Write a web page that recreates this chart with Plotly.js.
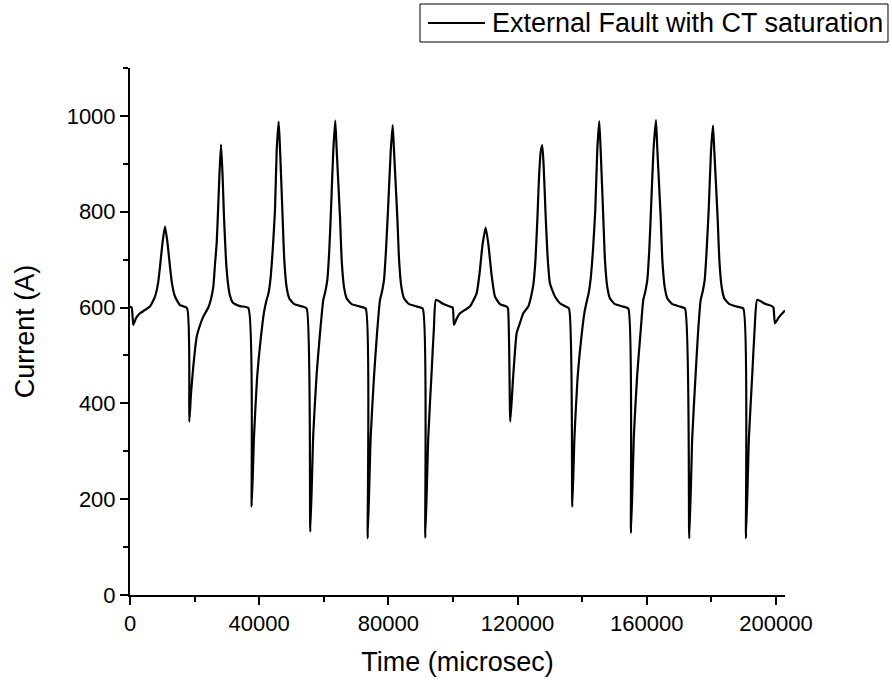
<!DOCTYPE html>
<html>
<head>
<meta charset="utf-8">
<script src="https://cdn.plot.ly/plotly-3.0.1.min.js"></script>
<style>html,body{margin:0;padding:0;background:#fff}#chart{width:892px;height:680px}</style>
</head>
<body>
<div id="chart"></div>
<script>
// Time (microsec)
const timeUs = [
  0, 526, 1022, 1858, 3096, 4644, 6192, 7740, 8669, 9288, 10062, 10836, 11610, 12384, 13003, 13932, 15480, 17647,
  18359, 18886, 19598, 20650, 21672, 22694, 24242, 25078, 25790, 26316, 26842, 27245, 27709, 28174, 28638, 29102,
  29722, 30341, 30960, 31889, 34056, 36626, 37679, 38390, 39319, 40403, 41486, 42260, 42880, 43500, 44181, 44893,
  45419, 46039, 46472, 47245, 47772, 48483, 49319, 50867, 53437, 54706, 55821, 56750, 57802, 58824, 59846, 60466,
  61085, 61704, 62230, 62943, 63562, 63995, 65016, 65543, 66254, 67090, 68638, 71208, 72972, 73591, 74520, 75542,
  76471, 77400, 78019, 78638, 79258, 79877, 80713, 81332, 81765, 82787, 83313, 84025, 84861, 86409, 88855, 90620,
  91425, 92354, 93345, 94118, 94738, 96905, 99072, 99908,
  100310, 101239, 102168, 103716, 105264, 106348, 107338, 108205, 109134, 110125, 110992, 111920, 113004, 114552,
  116626, 117029, 117741, 118577, 119722, 120744, 121766, 123314, 124150, 124924, 125543, 126162, 126626, 127153,
  127648, 128112, 128639, 129258, 130032, 131580, 133128, 134676, 135914, 136936, 137617, 138546, 139630, 140713,
  141394, 142013, 142632, 143345, 144057, 144676, 145295, 145729, 146534, 147060, 147772, 148608, 150156, 152726,
  154274, 155110, 156038, 157060, 158051, 158918, 159537, 160156, 160775, 161302, 162076, 162850, 163283, 164305,
  164831, 165543, 166379, 167927, 170280, 171828, 173159, 174088, 175079, 175853, 176689, 177308, 177927, 178546,
  179166, 179878, 180497, 180930, 181952, 182478, 183190, 184026, 185574, 187927, 189878, 190714, 191642, 192664,
  193438, 194212, 196596, 198763, 199228, 199692, 200930, 202788
];
// Current (A)
const currentA = [
  602, 600, 564, 578, 588, 595, 602, 623, 650, 685, 735, 769, 735, 685, 650, 623, 605, 599,
  362, 420, 477, 539, 563, 581, 600, 618, 643, 690, 735, 800, 880, 940, 880, 790,
  699, 650, 625, 610, 603, 599, 185, 330, 450, 530, 590, 615, 630, 660, 720, 803,
  928, 988, 928, 789, 699, 643, 619, 607, 602, 598, 132, 337, 462, 546, 616, 633,
  657, 720, 803, 928, 990, 928, 789, 699, 643, 619, 607, 602, 598, 118, 330, 455,
  545, 616, 633, 657, 720, 803, 925, 981, 925, 785, 699, 643, 619, 607, 602, 598,
  119, 330, 460, 560, 616, 608, 602, 600,
  564, 578, 588, 595, 602, 615, 630, 670, 730, 767, 730, 670, 623, 607,
  602, 598, 362, 450, 547, 568, 588, 602, 622, 650, 700, 790, 870, 925,
  939, 890, 800, 710, 650, 623, 609, 603, 598, 184, 330, 450, 530, 590,
  612, 630, 660, 720, 803, 928, 989, 928, 789, 699, 643, 619, 607, 602,
  598, 129, 337, 462, 546, 616, 633, 657, 720, 803, 928, 991, 928, 789,
  699, 643, 619, 607, 602, 598, 118, 330, 455, 545, 616, 633, 657, 720,
  803, 925, 980, 925, 785, 699, 643, 619, 607, 602, 598, 118, 330, 460,
  560, 616, 608, 603, 600, 567, 580, 594
];
const seriesName = "External Fault with CT saturation";
const xTickVals = [0, 40000, 80000, 120000, 160000, 200000];
const xTickText = ["0", "40000", "80000", "120000", "160000", "200000"];
const yTickVals = [0, 200, 400, 600, 800, 1000];
const yTickText = ["0", "200", "400", "600", "800", "1000"];

const font = "Arial, 'Liberation Sans', sans-serif";
const trace = {
  x: timeUs, y: currentA, type: "scatter", mode: "lines", name: seriesName,
  line: {color: "#000", width: 2.2, shape: "spline", smoothing: 0.5}, showlegend: false
};
// legend drawn as a framed key (paper coordinates, outside the plot area)
const layout = {
  width: 892, height: 680,
  margin: {l: 130, r: 107, t: 68, b: 85, pad: 0, autoexpand: false},
  paper_bgcolor: "#fff", plot_bgcolor: "#fff",
  font: {family: font, color: "#000"},
  showlegend: false,
  shapes: [
    {type: "rect", xref: "paper", yref: "paper", x0: 0.44275, x1: 1.15725, y0: 1.04934, y1: 1.12144,
     line: {color: "#000", width: 1}, fillcolor: "#fff"},
    {type: "line", xref: "paper", yref: "paper", x0: 0.45496, x1: 0.54198, y0: 1.08539, y1: 1.08539,
     line: {color: "#000", width: 2.2}}
  ],
  annotations: [
    {text: seriesName, xref: "paper", yref: "paper", x: 0.54962, y: 1.08539,
     xanchor: "left", yanchor: "middle", showarrow: false,
     font: {family: font, size: 27, color: "#000"}}
  ],
  xaxis: {
    range: [0, 202800], showgrid: false, zeroline: false,
    showline: true, linecolor: "#000", linewidth: 2,
    ticks: "outside", ticklen: 8, tickwidth: 2, tickcolor: "#000",
    tickmode: "array", tickvals: xTickVals, ticktext: xTickText,
    tickfont: {family: font, size: 22, color: "#000"},
    minor: {dtick: 20000, ticks: "outside", ticklen: 5, tickwidth: 2, tickcolor: "#000", showgrid: false},
    title: {text: "Time (microsec)", font: {family: font, size: 27, color: "#000"}, standoff: 17}
  },
  yaxis: {
    range: [0, 1100], showgrid: false, zeroline: false,
    showline: true, linecolor: "#000", linewidth: 2,
    ticks: "outside", ticklen: 8, tickwidth: 2, tickcolor: "#000",
    tickmode: "array", tickvals: yTickVals, ticktext: yTickText,
    tickfont: {family: font, size: 22, color: "#000"},
    minor: {dtick: 100, ticks: "outside", ticklen: 5, tickwidth: 2, tickcolor: "#000", showgrid: false},
    title: {text: "Current (A)", font: {family: font, size: 27, color: "#000"}, standoff: 24}
  }
};
Plotly.newPlot("chart", [trace], layout, {displayModeBar: false, staticPlot: true});
</script>
</body>
</html>
